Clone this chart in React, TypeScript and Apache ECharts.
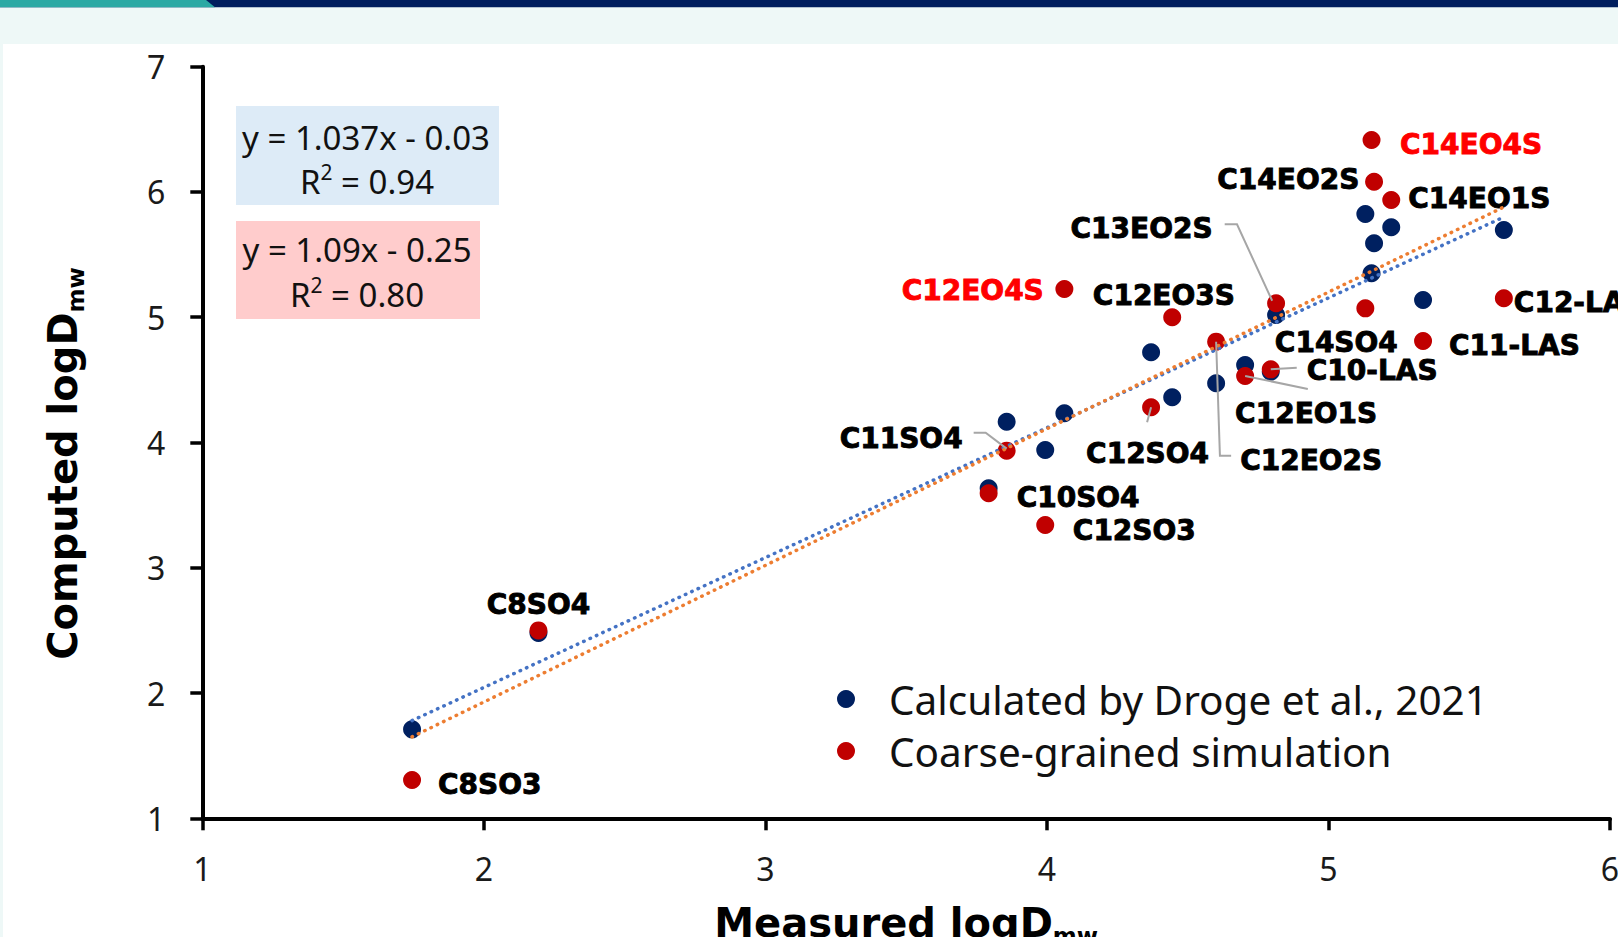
import React, { useEffect, useRef } from "react";
import * as echarts from "echarts";

// ---------------- data ----------------
const categories = [
  "C8SO3", "C8SO4", "C10SO4", "C11SO4", "C12SO3", "C12EO4S", "C12SO4", "C12EO3S", "C12EO2S",
  "C12EO1S", "C10-LAS", "C13EO2S", "C14SO4", "C14EO4S", "C14EO2S", "C14EO1S", "C11-LAS", "C12-LAS",
];
const measured = [
  1.745, 2.194, 3.793, 3.857, 3.994, 4.062, 4.37, 4.445, 4.601,
  4.704, 4.795, 4.814, 5.131, 5.153, 5.162, 5.223, 5.336, 5.623,
];
const calcDroge = [
  1.71, 2.48, 3.635, 4.166, 3.94, 4.233, 4.72, 4.361, 4.473,
  4.619, 4.565, 5.018, 5.824, 5.351, 5.59, 5.718, 5.138, 5.696,
];
const cgSim = [
  1.306, 2.5, 3.595, 3.935, 3.341, 5.225, 4.281, 5.0, 4.805,
  4.531, 4.584, 5.111, 5.071, 6.415, 6.082, 5.936, 4.81, 5.151,
];
const highlighted = ["C12EO4S", "C14EO4S"];

// trend line end points
const trendX = [1.745, 5.623];
const trendDrogeY = [1.78, 5.8];
const trendSimY = [1.65, 5.88];

const xTicks = { min: 1, max: 6, interval: 1 };
const yTicks = { min: 1, max: 7, interval: 1 };

const seriesNames = ["Calculated by Droge et al., 2021", "Coarse-grained simulation"];

// ---------------- layout (pixel offsets from red marker centre) ----------------
const labelPlace: Record<string, [string, number, number]> = {
  C8SO3: ["left", 26, 5],
  C8SO4: ["center", 0, -26],
  C10SO4: ["left", 28, 4],
  C11SO4: ["right", -44, -12],
  C12SO3: ["left", 27.6, 5.3],
  C12EO4S: ["right", -20.6, 1],
  C12SO4: ["center", -3.5, 46],
  C12EO3S: ["center", -8.3, -21.5],
  C12EO2S: ["left", 24, 119],
  C12EO1S: ["left", -10, 38],
  "C10-LAS": ["left", 36, 1],
  C13EO2S: ["right", -63.5, -75],
  C14SO4: ["center", -29, 34],
  C14EO4S: ["left", 28.5, 4.5],
  C14EO2S: ["right", -14.7, -2],
  C14EO1S: ["left", 17, -1.7],
  "C11-LAS": ["left", 26, 4],
  "C12-LAS": ["left", 10, 3.7],
};
const leaders: Record<string, number[][]> = {
  C11SO4: [[0, -2], [-21, -18], [-33, -18]],
  C12SO4: [[0, 0], [-4, 15]],
  C12EO2S: [[0, 0], [3.8, 114], [15, 114]],
  C12EO1S: [[0, 0], [62.7, 13]],
  "C10-LAS": [[0, 0], [26, -1.6]],
  C13EO2S: [[-3.9, -2.6], [-39.1, -79], [-51.4, -79]],
};

const BOLD = "DejaVu Sans";
const REG = "Noto Sans";

function buildOption(): any {
  const blueData = measured.map((x, i) => [x, calcDroge[i]]);
  const redData = categories.map((name, i) => {
    const p = labelPlace[name];
    const col = highlighted.includes(name) ? "#FF0000" : "#000000";
    return {
      name,
      value: [measured[i], cgSim[i]],
      label: {
        align: p[0],
        offset: [p[1], p[2]],
        color: col,
        textBorderColor: col,
        textBorderWidth: 0.9,
      },
    };
  });
  const dotted = (color: string) => ({
    color,
    width: 3.5,
    type: [0.5, 6.5],
    cap: "round",
  });
  const titleRich = {
    a: { fontFamily: BOLD, fontWeight: "bold", fontSize: 40, lineHeight: 48, color: "#000" },
    b: { fontFamily: BOLD, fontWeight: "bold", fontSize: 23, lineHeight: 23, verticalAlign: "bottom", color: "#000" },
  };
  const eqRich = {
    n: { fontFamily: REG, fontSize: 33, lineHeight: 40, fill: "#111" },
    s: { fontFamily: REG, fontSize: 21, lineHeight: 26, verticalAlign: "top", fill: "#111" },
  };

  return {
    animation: false,
    backgroundColor: "#ffffff",
    grid: { left: 202.3, right: 8, top: 66.7, bottom: 118.7, containLabel: false, outerBoundsMode: "none" },
    xAxis: {
      type: "value",
      ...xTicks,
      axisLine: { show: true, onZero: false, lineStyle: { color: "#000", width: 4 } },
      axisTick: { show: true, length: 12, lineStyle: { color: "#000", width: 3.5 } },
      splitLine: { show: false },
      axisLabel: { fontFamily: REG, fontSize: 32, color: "#1a1a1a", margin: 34 },
      name: "{a|Measured logD}{b|mw}",
      nameLocation: "middle",
      nameGap: 81,
      nameTextStyle: { rich: titleRich },
    },
    yAxis: {
      type: "value",
      ...yTicks,
      axisLine: { show: true, onZero: false, lineStyle: { color: "#000", width: 4 } },
      axisTick: { show: true, length: 12, lineStyle: { color: "#000", width: 3.5 } },
      splitLine: { show: false },
      axisLabel: { fontFamily: REG, fontSize: 32, color: "#1a1a1a", margin: 37 },
      name: "{a|Computed logD}{b|mw}",
      nameLocation: "middle",
      nameGap: 115,
      nameTextStyle: { padding: [0, 42, 0, 0], rich: titleRich },
    },
    legend: {
      data: seriesNames,
      orient: "vertical",
      left: 832,
      top: 668,
      itemWidth: 18,
      itemHeight: 18,
      itemGap: 0,
      icon: "circle",
      textStyle: { fontFamily: REG, fontSize: 40.5, color: "#111", lineHeight: 52, padding: [0, 0, 0, 29] },
    },
    graphic: {
      elements: [
        { type: "rect", shape: { x: 0, y: 0, width: 1618, height: 44 }, style: { fill: "#EEF8F7" }, silent: true },
        { type: "rect", shape: { x: 0, y: 44, width: 3, height: 893 }, style: { fill: "#EEF8F7" }, silent: true },
        { type: "rect", shape: { x: 0, y: 0, width: 1618, height: 7.3 }, style: { fill: "#001E5E" }, silent: true },
        { type: "polygon", shape: { points: [[0, 0], [206, 0], [215, 7.3], [0, 7.3]] }, style: { fill: "#2BA9A4" }, silent: true },
        { type: "rect", shape: { x: 236, y: 106, width: 263, height: 99 }, style: { fill: "#DDEBF7" }, silent: true },
        { type: "rect", shape: { x: 236, y: 221, width: 244, height: 98 }, style: { fill: "#FFCCCC" }, silent: true },
        {
          type: "text",
          style: { text: "y = 1.037x - 0.03", x: 366, y: 137, align: "center", verticalAlign: "middle", fontFamily: REG, fontSize: 33, fill: "#111" },
        },
        {
          type: "text",
          style: { text: "{n|R}{s|2}{n| = 0.94}", x: 367, y: 181, align: "center", verticalAlign: "middle", rich: eqRich },
        },
        {
          type: "text",
          style: { text: "y = 1.09x - 0.25", x: 357, y: 249, align: "center", verticalAlign: "middle", fontFamily: REG, fontSize: 33, fill: "#111" },
        },
        {
          type: "text",
          style: { text: "{n|R}{s|2}{n| = 0.80}", x: 357, y: 294, align: "center", verticalAlign: "middle", rich: eqRich },
        },
      ],
    },
    series: [
      {
        name: seriesNames[0],
        type: "scatter",
        data: blueData,
        symbol: "circle",
        symbolSize: 18,
        itemStyle: { color: "#002060", opacity: 1 },
        z: 2,
      },
      {
        name: seriesNames[1],
        type: "scatter",
        data: redData,
        symbol: "circle",
        symbolSize: 18,
        itemStyle: { color: "#C00000", opacity: 1 },
        label: {
          show: true,
          position: "inside",
          verticalAlign: "middle",
          formatter: "{b}",
          fontFamily: BOLD,
          fontWeight: "bold",
          fontSize: 28,
        },
        z: 3,
      },
      {
        type: "line",
        data: trendX.map((x, i) => [x, trendDrogeY[i]]),
        symbol: "none",
        lineStyle: dotted("#4472C4"),
        z: 4,
        silent: true,
      },
      {
        type: "line",
        data: trendX.map((x, i) => [x, trendSimY[i]]),
        symbol: "none",
        lineStyle: dotted("#ED7D31"),
        z: 4,
        silent: true,
      },
      {
        type: "custom",
        coordinateSystem: "cartesian2d",
        data: measured.map((x, i) => [x, cgSim[i]]),
        silent: true,
        z: 5,
        renderItem: (params: any, api: any) => {
          const segs = leaders[categories[params.dataIndex]];
          if (!segs) return { type: "group", children: [] };
          const c = api.coord([api.value(0), api.value(1)]);
          return {
            type: "polyline",
            shape: { points: segs.map(([dx, dy]) => [c[0] + dx, c[1] + dy]) },
            style: { stroke: "#A6A6A6", lineWidth: 2, fill: "none" },
          };
        },
      },
    ],
  };
}

export default function App() {
  const ref = useRef<HTMLDivElement>(null);
  useEffect(() => {
    if (!ref.current) return;
    const chart = echarts.init(ref.current, null, { renderer: "svg" });
    chart.setOption(buildOption());
    return () => chart.dispose();
  }, []);
  return (
    <div
      ref={ref}
      style={{ position: "fixed", left: 0, top: 0, width: 1618, height: 937, overflow: "hidden" }}
    />
  );
}
